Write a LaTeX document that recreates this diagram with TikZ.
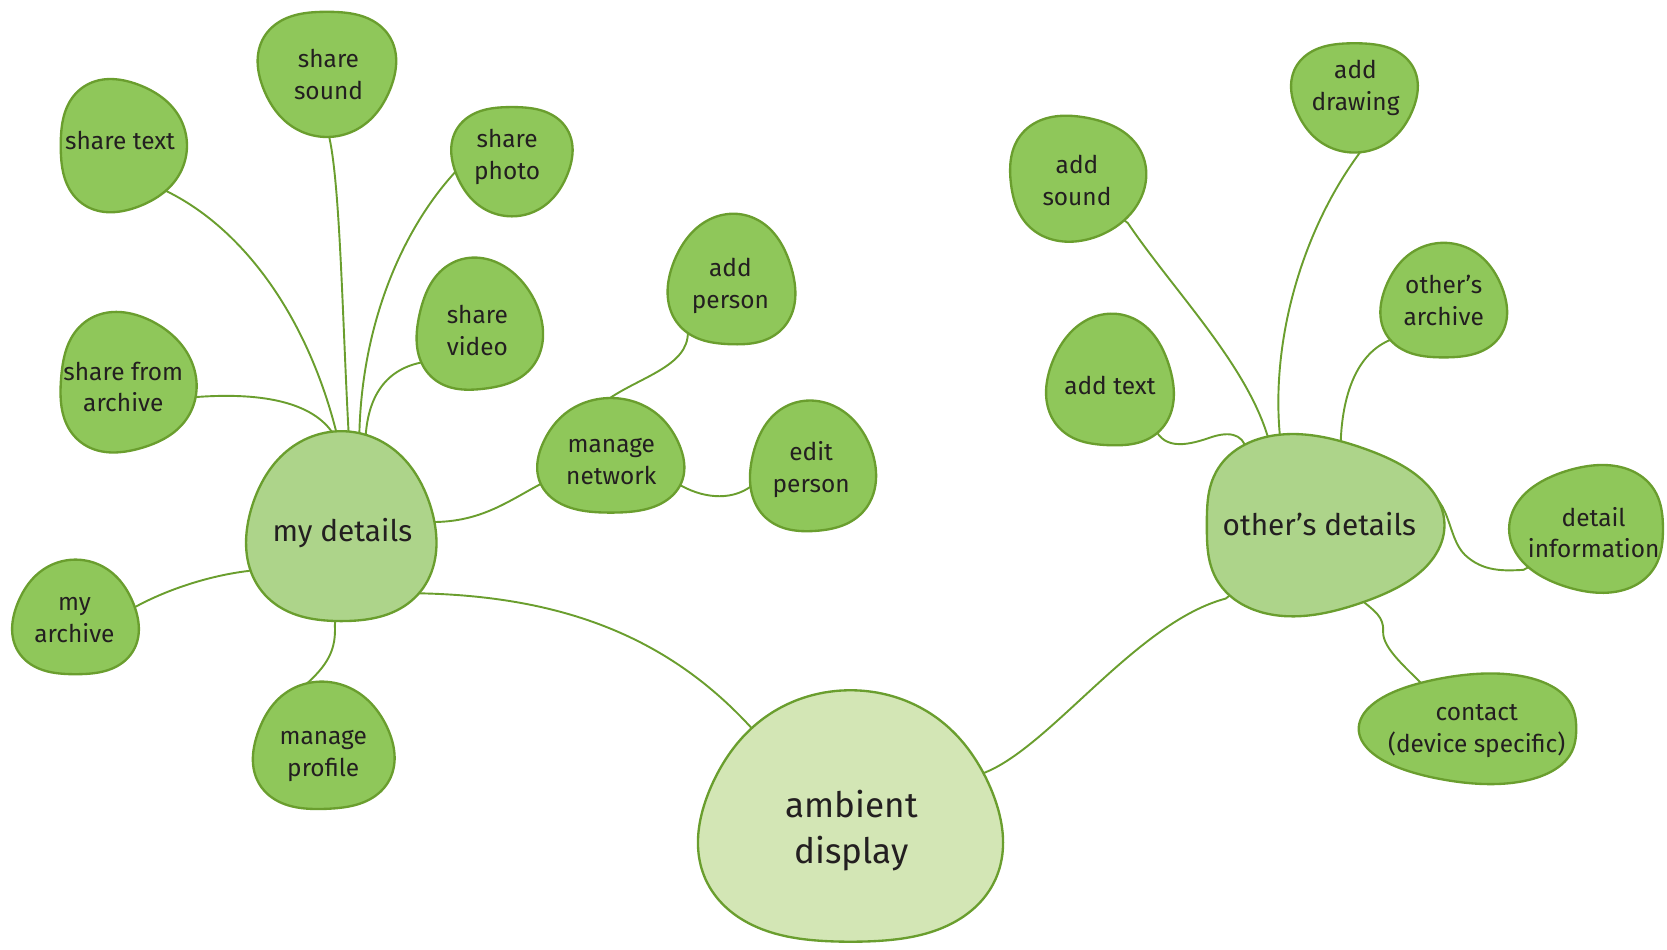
\documentclass[tikz,border=0pt]{standalone}
\usepackage{fontspec}
\setmainfont{Fira Sans}
\pgfdeclarelayer{lines}
\pgfdeclarelayer{blobs}
\pgfsetlayers{lines,blobs,main}
\definecolor{cBig}{HTML}{D3E6B5}
\definecolor{cMid}{HTML}{ADD48A}
\definecolor{cSmall}{HTML}{8FC75A}
\definecolor{cLine}{HTML}{6A9E2E}
\definecolor{cText}{HTML}{231F20}
\tikzset{
  blobsmall/.style={draw=cLine, fill=cSmall, line width=2.2pt},
  blobmid/.style={draw=cLine, fill=cMid, line width=2.2pt},
  blobbig/.style={draw=cLine, fill=cBig, line width=2.2pt},
  lbl/.style={text=cText, align=center, inner sep=0pt, font=\fontsize{23}{30}\selectfont},
  lblmid/.style={lbl, font=\fontsize{28}{34}\selectfont},
  lblbig/.style={lbl, font=\fontsize{33}{43}\selectfont},
  conn/.style={draw=cLine, line width=1.8pt, line join=round, line cap=round},
}
% style, cx, cy, half width, half height, 3rd-harmonic amount, its phase
\newcommand\pebble[7]{%
  \path[#1] plot[domain=0:355, samples=72, smooth cycle, variable=\t]
   ({#2+(#4/0.99)*(1+#6*cos(3*\t-#7)-0.012*cos(4*\t))*cos(\t)},
    {#3+(#5/0.99)*(1+#6*cos(3*\t-#7)-0.012*cos(4*\t))*sin(\t)});}
\begin{document}
\begin{tikzpicture}[x=1pt,y=-1pt]
\useasboundingbox (0,0) rectangle (1568,893);

% ---------- labels (nodes) ----------
\node[lbl] (sharesound) at (309,70) {share\\sound};
\node[lbl] (sharetext) at (113,132) {share text};
\node[lbl] (sharephoto) at (477,148) {share\\photo};
\node[lbl] (sharevideo) at (449,311) {share\\video};
\node[lbl] (sharearch) at (116,364) {share from\\archive};
\node[lbl] (addperson) at (687,269) {add\\person};
\node[lbl] (managenet) at (575,434) {manage\\network};
\node[lbl] (editperson) at (763,442) {edit\\person};
\node[lblmid] (mydetails) at (322,501) {my details};
\node[lbl] (myarchive) at (70,583) {my\\archive};
\node[lbl] (manageprof) at (304,711) {manage\\profile};
\node[lblbig] (ambient) at (801,781) {ambient\\display};
\node[lbl] (addsound) at (1013,170) {add\\sound};
\node[lbl] (adddrawing) at (1275,83) {add\\drawing};
\node[lbl] (othersarch) at (1358,283) {other’s\\archive};
\node[lbl] (addtext) at (1044,363) {add text};
\node[lblmid] (othersdet) at (1241,493) {other’s details};
\node[lbl] (detailinfo) at (1499,501) {detail\\information};
\node[lbl] (contact) at (1389,688) {contact\\(device specific)};

% ---------- blobs ----------
\begin{pgfonlayer}{blobs}
\pebble{blobsmall}{307.5}{67}{64.5}{59}{0.05}{270}
\pebble{blobsmall}{113.5}{137}{59.5}{62}{0.05}{0}
\pebble{blobsmall}{481.5}{149.5}{56.5}{51.5}{0.05}{270}
\pebble{blobsmall}{450}{307}{59}{62}{0.05}{60}
\pebble{blobsmall}{118}{360.5}{64}{65.5}{0.05}{20}
\pebble{blobsmall}{688.5}{265.5}{59.5}{61.5}{0.05}{100}
\pebble{blobsmall}{574.5}{431}{68.5}{54}{0.05}{90}
\pebble{blobsmall}{764}{440.5}{59}{61.5}{0.04}{70}
\pebble{blobmid}{321}{498.5}{89}{89.5}{0.04}{90}
\pebble{blobsmall}{71}{583}{59}{54}{0.05}{90}
\pebble{blobsmall}{304}{704}{66}{60}{0.05}{80}
\pebble{blobbig}{800}{773.5}{142}{118.5}{0.05}{90}
\pebble{blobsmall}{1012}{167}{64}{59}{0.04}{330}
\pebble{blobsmall}{1274}{89.5}{59}{51.5}{0.05}{270}
\pebble{blobsmall}{1358}{285}{59}{54}{0.05}{90}
\pebble{blobsmall}{1044.5}{360}{59.5}{62}{0.05}{100}
\pebble{blobmid}{1239}{494}{112}{84}{0.07}{0}
\pebble{blobsmall}{1495.5}{497.5}{72.5}{59.5}{0.05}{180}
\pebble{blobsmall}{1385.5}{685.5}{102.5}{51.5}{0.05}{180}
\end{pgfonlayer}

% ---------- connectors ----------
\begin{pgfonlayer}{lines}
\draw[conn] (sharetext.center) -- (155,179) .. controls (230,215) and (290,300) .. (317,409) -- (mydetails.center);
\draw[conn] (sharesound.center) -- (309,126) .. controls (320,170) and (322,300) .. (328,409) -- (mydetails.center);
\draw[conn] (sharephoto.center) -- (428,162) .. controls (375,220) and (340,310) .. (338,409) -- (mydetails.center);
\draw[conn] (sharevideo.center) -- (402,340) .. controls (365,345) and (347,370) .. (344,409) -- (mydetails.center);
\draw[conn] (sharearch.center) -- (178,374) .. controls (245,368) and (295,378) .. (314,409) -- (mydetails.center);
\draw[conn] (myarchive.center) -- (127,571) .. controls (160,553) and (200,541) .. (234,537) -- (mydetails.center);
\draw[conn] (manageprof.center) -- (284,647) .. controls (310,625) and (316,610) .. (315,588) -- (mydetails.center);
\draw[conn] (mydetails.center) -- (410,491) .. controls (455,490) and (480,470) .. (511,454) -- (managenet.center);
\draw[conn] (managenet.center) -- (570,377) .. controls (600,355) and (648,345) .. (647,312) -- (addperson.center);
\draw[conn] (managenet.center) -- (641,457) .. controls (665,470) and (690,470) .. (707,457) -- (editperson.center);
\draw[conn] (mydetails.center) -- (390,558) .. controls (530,560) and (630,600) .. (708,686) -- (ambient.center);
\draw[conn] (ambient.center) -- (928,726) .. controls (990,700) and (1070,585) .. (1153,563) -- (othersdet.center);
\draw[conn] (addsound.center) -- (1061,210) .. controls (1105,275) and (1175,345) .. (1194,416) -- (othersdet.center);
\draw[conn] (adddrawing.center) -- (1281,141) .. controls (1225,215) and (1195,320) .. (1204,411) -- (othersdet.center);
\draw[conn] (othersarch.center) -- (1307,320) .. controls (1272,335) and (1262,380) .. (1261,418) -- (othersdet.center);
\draw[conn] (addtext.center) -- (1086,402) .. controls (1095,425) and (1120,418) .. (1140,411) .. controls (1162,404) and (1172,412) .. (1173,428) -- (othersdet.center);
\draw[conn] (othersdet.center) -- (1334,463) .. controls (1365,462) and (1360,505) .. (1378,522) .. controls (1395,538) and (1415,537) .. (1433,536) -- (detailinfo.center);
\draw[conn] (othersdet.center) -- (1280,564) .. controls (1292,574) and (1302,580) .. (1301,594) .. controls (1300,610) and (1325,630) .. (1340,646) -- (contact.center);
\end{pgfonlayer}
\end{tikzpicture}
\end{document}
